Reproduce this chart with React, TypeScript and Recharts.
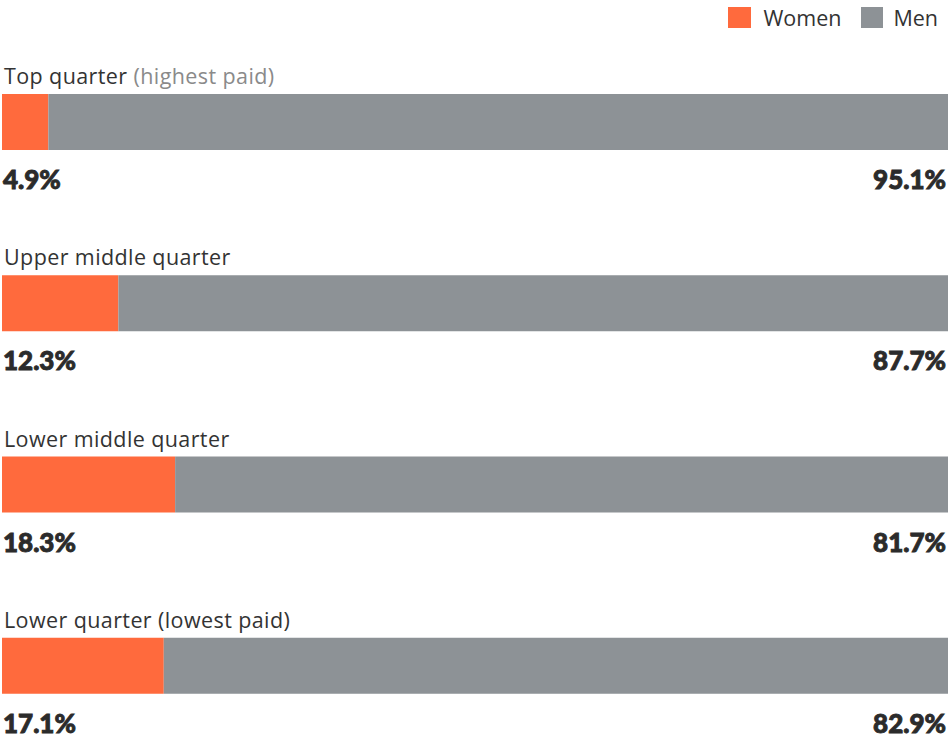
import { BarChart, Bar, XAxis, YAxis, Legend, LabelList } from "recharts";

const groups = ["Top quarter", "Upper middle quarter", "Lower middle quarter", "Lower quarter"];
const notes = ["(highest paid)", "", "", "(lowest paid)"];
const women = [4.9, 12.3, 18.3, 17.1];
const men = [95.1, 87.7, 81.7, 82.9];

const WOMEN_COLOR = "#ff6a3d";
const MEN_COLOR = "#8d9296";

const data = groups.map((g, i) => ({ group: g, women: women[i], men: men[i] }));

const pctStyle = {
  fontFamily: "Lato, sans-serif",
  fontWeight: 900,
  fontSize: 26,
  fill: "#2b2b2b",
  stroke: "#2b2b2b",
  strokeWidth: 0.9,
};

const WomenLabel = (props: any) => {
  const { x, y, height, index } = props;
  const note = notes[index];
  return (
    <g>
      <text x={4} y={y - 10} fontFamily="'Open Sans', sans-serif" fontSize={21.5} fill="#333" letterSpacing={0.4}>
        <tspan>{groups[index]}</tspan>
        {note && (
          <tspan fill={index === 0 ? "#8a8a8a" : "#333"}>{" " + note}</tspan>
        )}
      </text>
      <text x={x + 1} y={y + height + 39} style={pctStyle}>
        {women[index].toFixed(1)}%
      </text>
    </g>
  );
};

const MenLabel = (props: any) => {
  const { x, y, width, height, index } = props;
  return (
    <text x={x + width - 2} y={y + height + 39} textAnchor="end" style={pctStyle}>
      {men[index].toFixed(1)}%
    </text>
  );
};

const LegendBox = () => (
  <div
    style={{
      display: "flex",
      justifyContent: "flex-end",
      alignItems: "center",
      fontFamily: "'Open Sans', sans-serif",
      fontSize: 21.5,
      color: "#333",
      paddingRight: 12,
    }}
  >
    <span style={{ width: 23, height: 21, background: WOMEN_COLOR, marginRight: 12 }} />
    <span style={{ marginRight: 20 }}>Women</span>
    <span style={{ width: 22, height: 21, background: MEN_COLOR, marginRight: 10 }} />
    <span>Men</span>
  </div>
);

export default function App() {
  return (
    <div style={{ position: "absolute", left: 0, top: 0, background: "#fff" }}>
      <BarChart
        width={950}
        height={741}
        data={data}
        layout="vertical"
        margin={{ top: 31, right: 2, left: 2, bottom: -15 }}
        barSize={56}
      >
        <XAxis type="number" domain={[0, 100]} hide />
        <YAxis type="category" dataKey="group" hide />
        <Legend
          layout="horizontal"
          verticalAlign="middle"
          align="center"
          content={<LegendBox />}
          wrapperStyle={{ top: 3, left: 0, width: 950 }}
        />
        <Bar dataKey="women" stackId="a" fill={WOMEN_COLOR} isAnimationActive={false}>
          <LabelList dataKey="women" content={<WomenLabel />} />
        </Bar>
        <Bar dataKey="men" stackId="a" fill={MEN_COLOR} isAnimationActive={false}>
          <LabelList dataKey="men" content={<MenLabel />} />
        </Bar>
      </BarChart>
    </div>
  );
}
